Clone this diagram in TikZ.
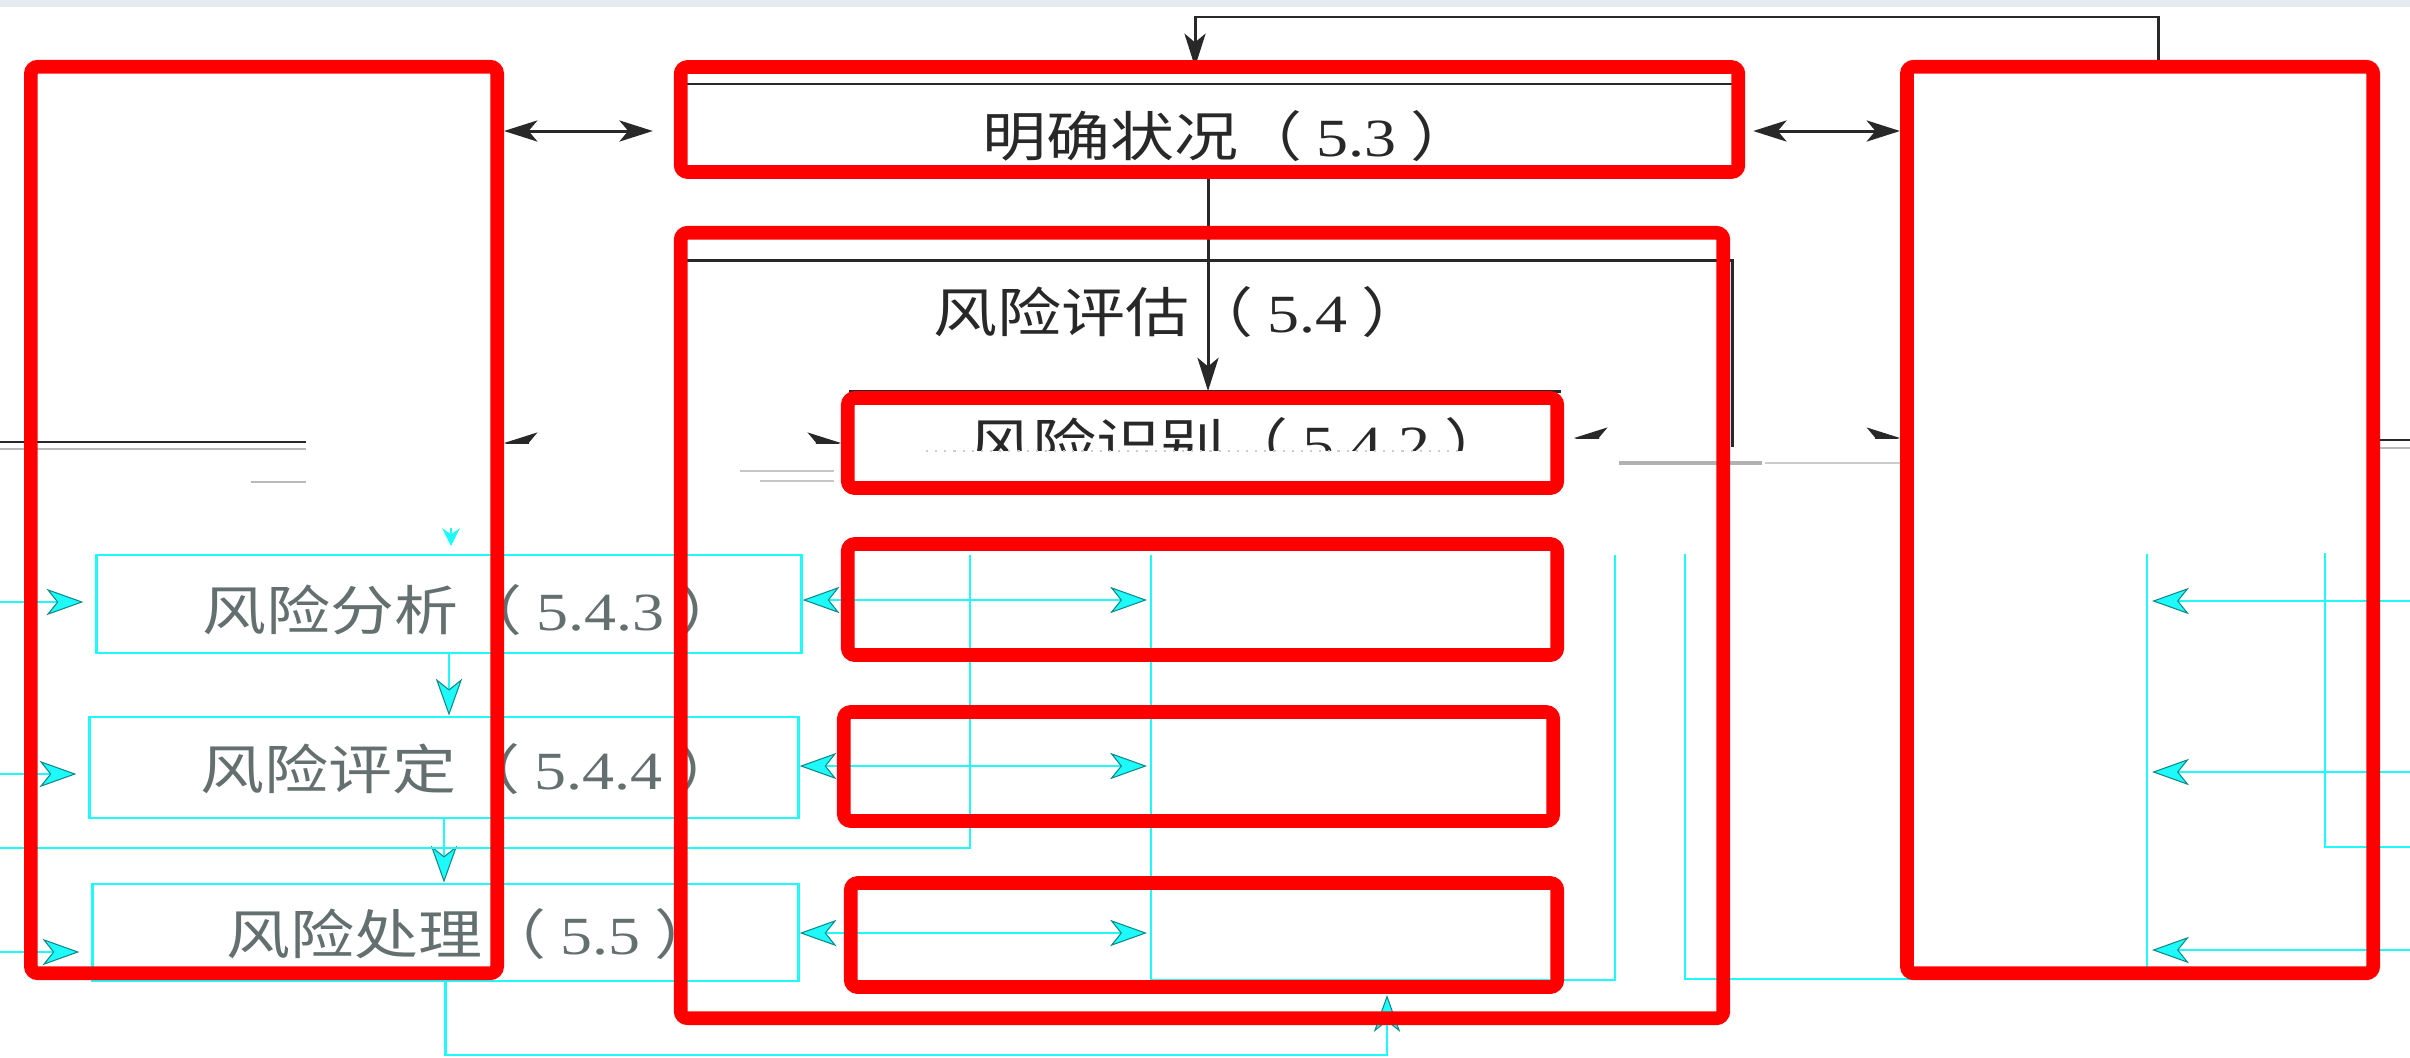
\documentclass[tikz,border=0pt]{standalone}
\usepackage{graphicx}
\usepackage{fontspec}
\setmainfont{Liberation Serif}
\newfontfamily\cjk{Noto Sans CJK SC}
\usetikzlibrary{arrows.meta}
\pgfdeclarelayer{fg}
\pgfsetlayers{main,fg}

\definecolor{ink}{RGB}{40,40,40}
\definecolor{cy}{RGB}{30,250,250}
\definecolor{band}{RGB}{228,235,238}
\definecolor{txtgray}{RGB}{100,112,112}
\newcommand{\boxtext}[2]{\scalebox{1}[0.84]{{\cjk #1（}\hspace{.22em}#2\hspace{.22em}{\cjk ）}}}

\tikzset{
  khead/.tip={Stealth[length=9.5pt,width=6pt,inset=2.5pt,color=ink]},
  cyhead/.tip={Stealth[length=10.5pt,width=7.5pt,inset=3pt,color=cy!55!black,fill=cy,line width=0.3pt]},
}

\begin{document}
\begin{tikzpicture}[x=0.01cm, y=-0.01cm,
  every node/.style={inner sep=0pt},
  hl/.style={draw=red, line width=3.9pt, rounded corners=2pt},
  kline/.style={draw=ink, line width=0.85pt},
  cyl/.style={draw=cy, line width=0.8pt},
  cbox/.style={draw=cy, line width=0.8pt},
  lbl/.style={anchor=west, font=\fontsize{18.2pt}{20pt}\selectfont}]
  \useasboundingbox (0,0) rectangle (2410,1057);
  \fill[band] (0,0) rectangle (2410,7);

  % red highlight boxes, kept on top
  \begin{pgfonlayer}{fg}
    \node[hl, minimum width=4.66cm, minimum height=9.06cm] (rComm) at (264,520) {};
    \node[hl, minimum width=10.57cm, minimum height=1.05cm] (rCtx) at (1209.5,119.5) {};
    \node[hl, minimum width=10.42cm, minimum height=7.85cm] (rAss) at (1202,625.5) {};
    \node[hl, minimum width=7.09cm, minimum height=0.9cm] (rIdent) at (1202.5,443) {};
    \node[hl, minimum width=7.09cm, minimum height=1.11cm] (rAnal) at (1202.5,599.5) {};
    \node[hl, minimum width=7.09cm, minimum height=1.09cm] (rEval) at (1198.5,766.5) {};
    \node[hl, minimum width=7.06cm, minimum height=1.04cm] (rTreat) at (1204,935) {};
    \node[hl, minimum width=4.66cm, minimum height=9.06cm] (rMon) at (2140,520) {};
  \end{pgfonlayer}

  % broken arrow heads under the identification row
  \begin{scope}
    \clip (0,0) rectangle (2410,443);
    \draw[white, line width=0.4pt, khead-khead] (rComm.east |- 0,443) -- (rIdent.west |- 0,443);
  \end{scope}
  \begin{scope}
    \clip (0,0) rectangle (2410,438);
    \draw[white, line width=0.4pt, khead-khead, shorten <=0.1cm] (rIdent.east |- 0,438) -- (rMon.west |- 0,438);
  \end{scope}

  % black frames
  \draw[kline] (686,84) -- (1734,84);
  \draw[kline] (686,260) -- (1732,260) -- (1732,447);
  \draw[kline] (849,391) -- (1561,391);

  \node[lbl, text=ink] (tCtx) at (982,136) {\boxtext{明确状况}{5.3}};
  \node[lbl, text=ink] (tAss) at (933,312) {\boxtext{风险评估}{5.4}};
  \begin{scope}
    \clip (0,0) rectangle (2410,450);
    \node[lbl, text=ink] (tIdent) at (968,443) {\boxtext{风险识别}{5.4.2}};
  \end{scope}

  \draw[kline, khead-khead, shorten >=0.21cm] (rComm.east |- 0,131) -- (rCtx.west |- 0,131);
  \draw[kline, khead-khead, shorten <=0.08cm] (rCtx.east |- 0,131) -- (rMon.west |- 0,131);
  \draw[kline, -khead] (rCtx.south -| 1208,0) -- (rIdent.north -| 1208,0);
  \draw[kline, -khead] (rMon.north -| 2158,0) -- (2158,17) -- (1195,17) -- (1195,67);

  % remains of erased lines
  \draw[ink, line width=0.8pt] (0,442) -- (306,442);
  \draw[gray!55, line width=0.8pt] (0,449) -- (306,449);
  \draw[gray!55, line width=0.8pt] (251,482) -- (306,482);
  \draw[gray!45, line width=0.8pt] (740,471) -- (834,471);
  \draw[gray!45, line width=0.8pt] (760,481) -- (834,481);
  \draw[gray!40, line width=0.6pt, dotted] (926,451) -- (1460,451);
  \draw[gray!60, line width=1.2pt] (1619,463) -- (1762,463);
  \draw[gray!40, line width=0.8pt] (1765,463) -- (1900,463);
  \draw[ink, line width=0.8pt] (2380,440) -- (2410,440);
  \draw[gray!55, line width=0.8pt] (2380,448) -- (2410,448);

  % cyan process boxes
  \node[cbox, minimum width=7.04cm, minimum height=0.98cm] (anal) at (449,604) {};
  \node[cbox, minimum width=7.08cm, minimum height=1.01cm] (eval) at (444,767.5) {};
  \node[cbox, minimum width=7.05cm, minimum height=0.97cm] (treat) at (445.5,932.5) {};
  \node[lbl, text=txtgray] (tAnal) at (202,610) {\boxtext{风险分析}{5.4.3}};
  \node[lbl, text=txtgray] (tEval) at (200,769) {\boxtext{风险评定}{5.4.4}};
  \node[lbl, text=txtgray] (tTreat) at (226,934) {\boxtext{风险处理}{5.5}};

  \coordinate (lin1) at (0,602);
  \coordinate (lin2) at (0,774);
  \coordinate (lin3) at (0,952);
  \draw[cyl, -cyhead, shorten >=0.12cm] (lin1) -- (lin1 -| anal.west);
  \draw[cyl, -cyhead, shorten >=0.12cm] (lin2) -- (lin2 -| eval.west);
  \draw[cyl, -cyhead, shorten >=0.12cm] (lin3) -- (lin3 -| treat.west);

  \draw[cyl, -cyhead] (anal.south) -- (anal.south |- eval.north);
  \draw[cyl, -cyhead] (eval.south) -- (eval.south |- treat.north);
  \draw[cyl, -{Stealth[length=5pt,width=5pt,color=cy]}] (451,528) -- (451,546);

  \draw[cyl] (970,555) |- (0,848);
  \draw[cyl] (1151,555) -- (1151,980) -- (1615,980) -- (1615,555);
  \draw[cyl] (1685,554) -- (1685,979) -- (2147,979) -- (2147,554);
  \draw[cyl, cyhead-cyhead] (anal.east |- 0,600) -- (1147,600);
  \draw[cyl, cyhead-cyhead] (eval.east |- 0,766) -- (1147,766);
  \draw[cyl, cyhead-cyhead] (treat.east |- 0,933) -- (1147,933);

  \coordinate (rin1) at (2410,601);
  \coordinate (rin2) at (2410,772);
  \coordinate (rin3) at (2410,950);
  \draw[cyl, -cyhead] (rin1) -- (2152,601);
  \draw[cyl, -cyhead] (rin2) -- (2152,772);
  \draw[cyl, -cyhead] (rin3) -- (2152,950);
  \draw[cyl] (2325,553) |- (2410,847);

  \draw[cyl, -cyhead] (treat.south) |- (1387,1055) -- (1387,995);
\end{tikzpicture}
\end{document}
